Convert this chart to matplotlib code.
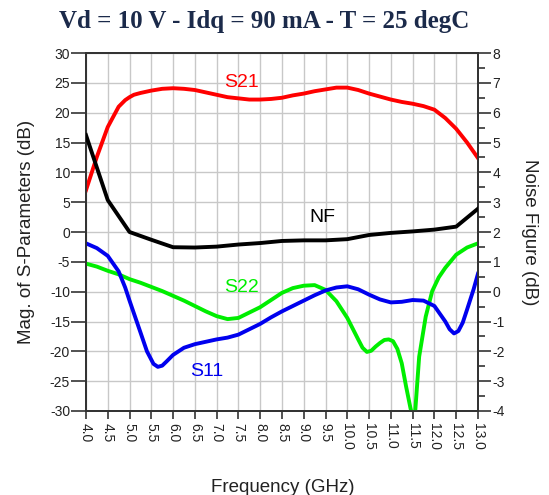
import matplotlib
matplotlib.use("Agg")
import matplotlib.pyplot as plt
from matplotlib.ticker import MultipleLocator

plt.rcParams['font.family'] = ['Liberation Sans', 'DejaVu Sans']

# Gain (S21) in dB
s21_freq = [4.0, 4.25, 4.5, 4.75, 4.9, 5.0, 5.1, 5.25, 5.5, 5.75, 6.0, 6.25, 6.5, 6.75, 7.0,
            7.25, 7.5, 7.75, 8.0, 8.25, 8.5, 8.75, 9.0, 9.25, 9.5, 9.75, 10.0,
            10.25, 10.5, 10.75, 11.0, 11.25, 11.5, 11.75, 12.0, 12.25, 12.5,
            12.75, 13.0]
s21_db = [7.0, 12.6, 17.6, 21.0, 22.1, 22.6, 23.0, 23.3, 23.7, 24.0, 24.1, 24.0, 23.8, 23.4, 23.0,
          22.6, 22.4, 22.2, 22.2, 22.3, 22.5, 22.9, 23.2, 23.6, 23.9, 24.2, 24.2,
          23.8, 23.2, 22.7, 22.2, 21.8, 21.5, 21.1, 20.5, 19.1, 17.3,
          15.0, 12.4]

# Input return loss (S11) in dB
s11_freq = [4.0, 4.25, 4.5, 4.75, 4.9, 5.0, 5.25, 5.4, 5.55, 5.65, 5.75, 5.85, 6.0, 6.25, 6.5, 6.75,
            7.0, 7.25, 7.5, 7.75, 8.0, 8.25, 8.5, 8.75, 9.0, 9.25, 9.5, 9.75,
            10.0, 10.25, 10.5, 10.75, 11.0, 11.25, 11.5, 11.75, 12.0, 12.25,
            12.35, 12.45, 12.55, 12.65, 12.75, 12.9, 13.0]
s11_db = [-1.9, -2.7, -4.0, -6.6, -9.3, -11.5, -16.8, -20.0, -22.1, -22.6, -22.4, -21.7, -20.6, -19.4, -18.8, -18.4,
          -18.0, -17.7, -17.2, -16.3, -15.4, -14.3, -13.3, -12.4, -11.5, -10.6, -9.8, -9.3,
          -9.1, -9.6, -10.5, -11.3, -11.8, -11.7, -11.4, -11.5, -12.4, -15.0,
          -16.3, -17.0, -16.6, -15.2, -13.0, -9.6, -7.0]

# Output return loss (S22) in dB
s22_freq = [4.0, 4.25, 4.5, 4.75, 5.0, 5.25, 5.5, 5.75, 6.0, 6.25, 6.5, 6.75, 7.0,
            7.25, 7.5, 7.75, 8.0, 8.25, 8.5, 8.75, 9.0, 9.25, 9.5, 9.75, 10.0,
            10.25, 10.35, 10.45, 10.55, 10.65, 10.75, 10.85, 10.95, 11.05, 11.15, 11.25, 11.35, 11.45, 11.5,
            11.55, 11.65, 11.8, 11.95, 12.1, 12.25, 12.5, 12.75, 13.0]
s22_db = [-5.3, -5.8, -6.5, -7.1, -7.9, -8.5, -9.2, -9.9, -10.7, -11.5, -12.4, -13.3, -14.1,
          -14.6, -14.4, -13.5, -12.6, -11.4, -10.2, -9.4, -9.0, -8.9, -9.7, -11.6, -14.4,
          -18.0, -19.4, -20.1, -19.9, -19.2, -18.6, -18.1, -18.0, -18.3, -19.6, -22.0, -25.9, -29.5, -31.0,
          -31.0, -20.9, -14.2, -9.9, -7.6, -6.0, -3.8, -2.6, -1.9]

# Noise figure in dB (right axis)
nf_freq = [4.0, 4.5, 5.0, 5.5, 6.0, 6.5, 7.0, 7.5, 8.0, 8.5, 9.0, 9.5, 10.0,
           10.5, 11.0, 11.5, 12.0, 12.5, 13.0]
nf_db = [5.25, 3.07, 2.0, 1.74, 1.49, 1.48, 1.51, 1.58, 1.63, 1.7, 1.72, 1.72, 1.76,
         1.9, 1.97, 2.02, 2.08, 2.18, 2.78]

freq_ticks = [4.0, 4.5, 5.0, 5.5, 6.0, 6.5, 7.0, 7.5, 8.0, 8.5, 9.0, 9.5, 10.0,
              10.5, 11.0, 11.5, 12.0, 12.5, 13.0]
s_ticks = [-30, -25, -20, -15, -10, -5, 0, 5, 10, 15, 20, 25, 30]
nf_ticks = [-4, -3, -2, -1, 0, 1, 2, 3, 4, 5, 6, 7, 8]

title = "Vd = 10 V - Idq = 90 mA - T = 25 degC"

fig = plt.figure(figsize=(5.49, 4.95), dpi=100)
ax = fig.add_axes([0.1566, 0.1697, 0.714, 0.7232])
ax2 = ax.twinx()

lw = 2.8
ax.plot(s21_freq, s21_db, color='#ff0000', lw=lw, solid_joinstyle='round', zorder=3)
ax.plot(s22_freq, s22_db, color='#00ee00', lw=lw, solid_joinstyle='round', zorder=3)
ax.plot(s11_freq, s11_db, color='#0000ee', lw=lw, solid_joinstyle='round', zorder=3)
ax2.plot(nf_freq, nf_db, color='black', lw=lw, solid_joinstyle='round', zorder=3)

ax.set_xlim(4.0, 13.0)
ax.set_ylim(-30, 30)
ax2.set_ylim(-4, 8)

ax.set_xticks(freq_ticks)
ax.set_xticklabels([f"{v:.1f}" for v in freq_ticks], rotation=-90, fontsize=10)
ax.set_yticks(s_ticks)
ax.set_yticklabels([str(v) for v in s_ticks], fontsize=10)
ax2.set_yticks(nf_ticks)
ax2.set_yticklabels([str(v) for v in nf_ticks], fontsize=10)
ax2.yaxis.set_minor_locator(MultipleLocator(0.5))

ax.grid(True, color='#c8c8c8', lw=1.0, zorder=0)
ax.set_axisbelow(True)

ax.tick_params(axis='y', direction='out', length=10.5, width=1.2, pad=1, colors='#333333', labelcolor='#222222')
ax.tick_params(axis='x', direction='out', length=6, width=1.2, pad=3, colors='#333333', labelcolor='#222222')
ax2.tick_params(axis='y', which='major', direction='out', length=9.5, width=1.2, pad=1, colors='#333333', labelcolor='#222222')
ax2.tick_params(axis='y', which='minor', direction='out', length=5, width=1.2, colors='#333333')

for a in (ax, ax2):
    for s in a.spines.values():
        s.set_color('#333333')
        s.set_linewidth(1.3)

ax.set_ylabel("Mag. of S-Parameters (dB)", fontsize=13.5, color='#222222', va='center')
ax.yaxis.set_label_coords(-0.1505, 0.5)
ax2.set_ylabel("Noise Figure (dB)", fontsize=13.5, color='#222222', rotation=-90, va='center')
ax2.yaxis.set_label_coords(1.1327, 0.5)
ax.set_xlabel("Frequency (GHz)", fontsize=13.5, color='#222222', va='center')
ax.xaxis.set_label_coords(0.5025, -0.215)

ax.text(7.56, 25.05, "S21", color='#ff0000', fontsize=14, ha='center', va='center')
ax.text(9.43, 2.35, "NF", color='black', fontsize=14, ha='center', va='center')
ax.text(7.58, -9.3, "S22", color='#00ee00', fontsize=14, ha='center', va='center')
ax.text(6.78, -23.4, "S11", color='#0000ee', fontsize=14, ha='center', va='center')

fig.text(0.482, 0.9556, title, fontsize=18, fontweight='bold', family='Liberation Serif',
         color='#1b2a4a', ha='center', va='center')

fig.savefig("out.png", dpi=100)
